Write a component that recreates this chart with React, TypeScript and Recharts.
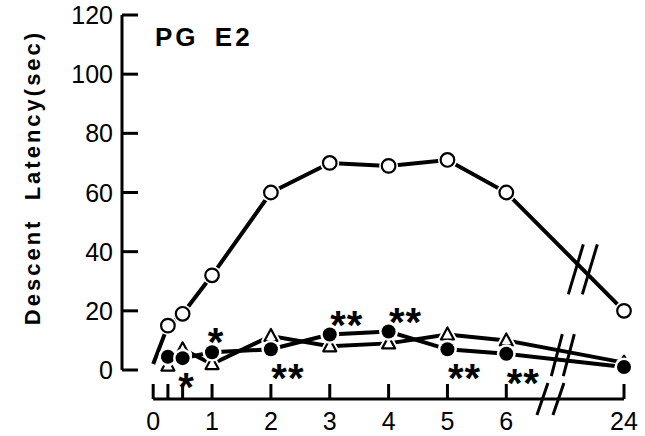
import React from 'react'
import { ComposedChart, Line, XAxis, YAxis, ReferenceLine, ReferenceDot } from 'recharts'

// hours after injection; 24 h sits past an axis break
const HOURS = [0, 0.25, 0.5, 1, 2, 3, 4, 5, 6, 24]
const VEHICLE = [2, 15, 19, 32, 60, 70, 69, 71, 60, 20] // open circles
const PGE2_FILLED = [null, 4.5, 4, 6, 7, 12, 13, 7, 5.5, 1] // filled circles
const PGE2_TRIANGLE = [null, 1.5, 7, 2, 11.5, 8, 9, 12, 10, 2.5] // open triangles
const STARS = ['', '', '*', '*', '**', '**', '**', '**', '**', '']
const STAR_BELOW = [false, false, true, false, true, false, false, true, true, false]
const X_TICKS = [0, 0.25, 0.5, 1, 2, 3, 4, 5, 6, 24]
const X_LABELS = ['0', '', '', '1', '2', '3', '4', '5', '6', '24']
const Y_TICKS = [0, 20, 40, 60, 80, 100, 120]

const BREAK_FROM = 6
const BREAK_TO = 8 // 24 h is drawn two units after 6 h
const pos = (h: number) => (h > BREAK_FROM ? BREAK_TO : h)
const AXIS_BREAK = 6.75
const X_LINE = -9.8 // x axis runs below the y axis' zero

const FONT = '"Liberation Sans", Arial, sans-serif'
const INK = '#000'

const data = HOURS.map((h, i) => ({
  x: pos(h),
  vehicle: VEHICLE[i],
  filled: PGE2_FILLED[i],
  triangle: PGE2_TRIANGLE[i],
}))
const tickPositions = X_TICKS.map(pos)
const axisTicks = [...tickPositions, AXIS_BREAK].sort((a, b) => a - b)

function Slashes({ cx, cy, len, lean, gap }: any) {
  return (
    <g>
      {[-gap / 2, gap / 2].map((k) => (
        <line key={k} x1={cx + k - lean / 2} y1={cy + len / 2} x2={cx + k + lean / 2} y2={cy - len / 2} stroke={INK} strokeWidth={3} />
      ))}
    </g>
  )
}

function XTick(props: any) {
  const { x, y, payload } = props
  const axisY = y + 29
  if (payload.value === AXIS_BREAK) {
    return <Slashes cx={x} cy={axisY} len={32} lean={11} gap={16} />
  }
  const label = X_LABELS[tickPositions.indexOf(payload.value)]
  return (
    <g>
      <line x1={x} x2={x} y1={axisY} y2={axisY - 15} stroke={INK} strokeWidth={3} />
      {label ? (
        <text x={x} y={axisY + 31} textAnchor="middle" fontSize={25} fontFamily={FONT} fill={INK}>{label}</text>
      ) : null}
    </g>
  )
}

function YTick(props: any) {
  const { x, y, payload } = props
  return (
    <g>
      <line x1={x} x2={x + 16} y1={y} y2={y} stroke={INK} strokeWidth={3} />
      <text x={x - 9} y={y} dy="0.36em" textAnchor="end" fontSize={25} fontFamily={FONT} fill={INK}>{payload.value}</text>
    </g>
  )
}

function YTitle(props: any) {
  const vb = props.viewBox
  const cx = vb.x + 32
  const cy = vb.y + vb.height / 2 - 15
  return (
    <text x={cx} y={cy} transform={`rotate(-90 ${cx} ${cy})`} textAnchor="middle" dominantBaseline="central"
      fontSize={22} fontWeight="bold" letterSpacing={3} fontFamily={FONT} fill={INK} style={{ whiteSpace: 'pre' }}>
      Descent  Latency(sec)
    </text>
  )
}

function OpenCircle(props: any) {
  const { cx, cy, index } = props
  if (index === 0 || cy == null) return <g key={index} />
  return (
    <g key={index}>
      <circle cx={cx} cy={cy} r={9.5} fill="#fff" />
      <circle cx={cx} cy={cy} r={6.8} fill="#fff" stroke={INK} strokeWidth={2.2} />
    </g>
  )
}

function Triangle(props: any) {
  const { cx, cy, index } = props
  if (cy == null) return <g key={index} />
  const pts = `${cx},${cy - 7} ${cx - 6.5},${cy + 5} ${cx + 6.5},${cy + 5}`
  return (
    <g key={index}>
      <polygon points={pts} fill="#fff" stroke="#fff" strokeWidth={6} strokeLinejoin="round" />
      <polygon points={pts} fill="#fff" stroke={INK} strokeWidth={2.2} strokeLinejoin="round" />
    </g>
  )
}

function FilledCircle(props: any) {
  const { cx, cy, index } = props
  if (cy == null) return <g key={index} />
  const s = STARS[index]
  const below = STAR_BELOW[index]
  return (
    <g key={index}>
      <circle cx={cx} cy={cy} r={9.5} fill="#fff" />
      <circle cx={cx} cy={cy} r={7} fill={INK} />
      {s ? (
        <text x={cx + (s.length === 1 ? 4 : 17)} y={cy + (below ? 20 : -19) + 23} textAnchor="middle"
          fontSize={40} fontWeight="bold" letterSpacing={1} fontFamily={FONT} fill={INK}>{s}</text>
      ) : null}
    </g>
  )
}

const LINE_BREAKS = [
  { x: 7.3, y: 34, len: 50, lean: 15, gap: 14 },
  { x: 6.96, y: 5, len: 42, lean: 11, gap: 12 },
]

export default function App() {
  return (
    <div style={{ position: 'absolute', left: 0, top: 0, width: 645, height: 436, background: '#fff', fontFamily: FONT }}>
      <ComposedChart width={645} height={436} data={data} margin={{ top: 15, right: 21, bottom: 0, left: 0 }}>
        <XAxis type="number" dataKey="x" domain={[-0.53, BREAK_TO]} ticks={axisTicks} interval={0}
          axisLine={false} tickLine={false} tickSize={0} tickMargin={0} height={66} tick={(p: any) => <XTick {...p} />} />
        <YAxis type="number" domain={[0, 120]} ticks={Y_TICKS} interval={0} width={122}
          axisLine={{ stroke: INK, strokeWidth: 3 }} tickLine={false} tickSize={0} tickMargin={0}
          tick={(p: any) => <YTick {...p} />} label={(p: any) => <YTitle {...p} />} />
        <ReferenceLine segment={[{ x: 0, y: X_LINE }, { x: BREAK_TO, y: X_LINE }]} ifOverflow="visible"
          stroke={INK} strokeWidth={3} />
        <Line dataKey="vehicle" stroke={INK} strokeWidth={4} dot={(p: any) => <OpenCircle key={p.index} {...p} />} isAnimationActive={false} />
        <Line dataKey="triangle" stroke={INK} strokeWidth={4} dot={(p: any) => <Triangle key={p.index} {...p} />} isAnimationActive={false} />
        <Line dataKey="filled" stroke={INK} strokeWidth={4} dot={(p: any) => <FilledCircle key={p.index} {...p} />} isAnimationActive={false} />
        {LINE_BREAKS.map((b) => (
          <ReferenceDot key={b.x} x={b.x} y={b.y} ifOverflow="visible"
            shape={(p: any) => <Slashes cx={p.cx} cy={p.cy} len={b.len} lean={b.lean} gap={b.gap} />} />
        ))}
      </ComposedChart>
      <div style={{ position: 'absolute', left: 155, top: 24, fontSize: 26, lineHeight: '26px', fontWeight: 'bold', letterSpacing: 3, wordSpacing: 6, color: INK }}>
        PG E2
      </div>
    </div>
  )
}
